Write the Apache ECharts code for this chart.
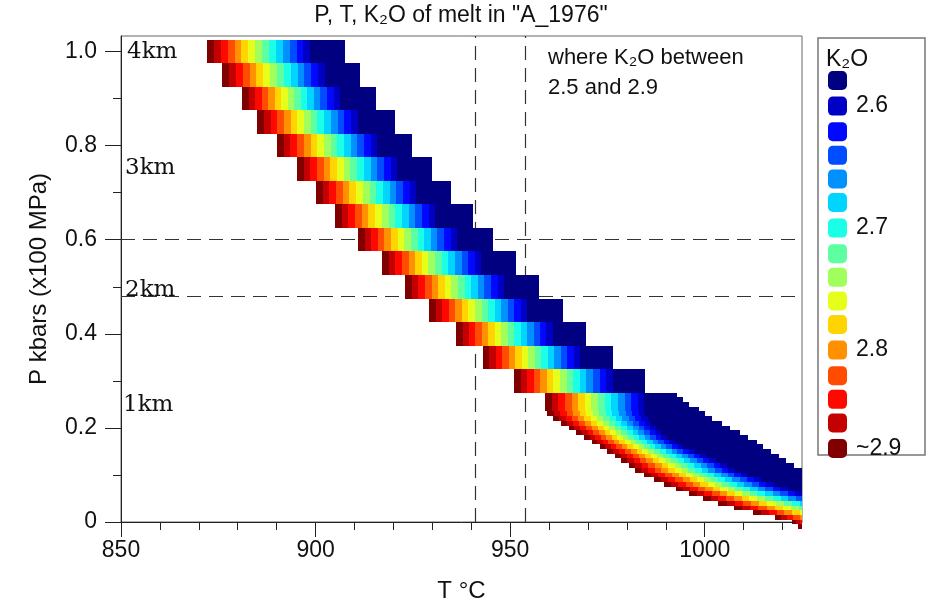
<!DOCTYPE html>
<html><head><meta charset="utf-8">
<script src="https://cdn.jsdelivr.net/npm/echarts@6/dist/echarts.min.js"></script>
<style>html,body{margin:0;padding:0;background:#fff}#c{width:937px;height:608px}</style>
</head><body><div id="c"></div>
<script>
// ---------------- data ----------------
// K2O colour bins (legend order, top -> bottom) and their colours
const binK2O = [2.58, 2.60, 2.62, 2.64, 2.66, 2.68, 2.70, 2.72, 2.74, 2.76, 2.78, 2.80, 2.82, 2.84, 2.86, 2.88];
const binColors = ['#000080', '#0000C4', '#0008FF', '#004CFF', '#0091FF', '#00D4FF', '#1AFFE6', '#5DFFA1',
                   '#A1FF5D', '#E6FF1A', '#FFD400', '#FF9100', '#FF4C00', '#FF0800', '#C40000', '#800000'];
const legendLabels = { '2.60': '2.6', '2.70': '2.7', '2.80': '2.8', '2.88': '~2.9' };

// K2O of the successive stripes in every row, low T -> high T, before the navy block
const stripeK2O = [2.88, 2.86, 2.84, 2.82, 2.80, 2.78, 2.76, 2.74, 2.72, 2.70, 2.68, 2.66, 2.64, 2.62, 2.60];
const navyK2O = 2.58;

// upper staircase: row pressure (kbar), first T, stripe width (degC), last T
const upperH = 0.05;
const upperP  = [1.00, 0.95, 0.90, 0.85, 0.80, 0.75, 0.70, 0.65, 0.60, 0.55, 0.50, 0.45, 0.40, 0.35, 0.30];
const upperT0 = [872.1, 876.0, 881.1, 885.0, 890.1, 895.2, 900.1, 905.0, 910.9, 917.1, 923.0, 929.2, 936.1, 943.0, 951.0];
const upperW  = [1.77, 1.76, 1.68, 1.72, 1.72, 1.72, 1.72, 1.72, 1.70, 1.70, 1.70, 1.68, 1.66, 1.67, 1.69];
const upperT1 = [907.6, 911.4, 915.5, 920.4, 924.8, 929.9, 934.8, 940.5, 945.6, 951.5, 957.4, 963.6, 969.5, 976.4, 984.7];

// lower (fine) region: row pressure, first T, stripe width, last T
const lowerH = 0.01;
const lowerP  = [0.27, 0.26, 0.25, 0.24, 0.23, 0.22, 0.21, 0.20, 0.19, 0.18, 0.17, 0.16, 0.15, 0.14, 0.13,
                 0.12, 0.11, 0.10, 0.09, 0.08, 0.07, 0.06, 0.05, 0.04, 0.03, 0.02, 0.01, 0.00, -0.01];
const lowerT0 = [959, 959, 959, 959, 959.5, 961, 963, 965, 967, 969, 971, 973, 975, 977, 978.5,
                 980.5, 982, 984.5, 987, 989.5, 992.5, 996, 999.5, 1003.5, 1007.5, 1012.5, 1018, 1022.5, 1024];
const lowerW  = [1.70, 1.70, 1.70, 1.70, 1.68, 1.62, 1.55, 1.50, 1.45, 1.42, 1.42, 1.43, 1.50, 1.55, 1.62,
                 1.68, 1.72, 1.78, 1.83, 1.88, 1.92, 1.95, 2.0, 2.1, 2.1, 2.0, 1.6, 1.0, 1.0];
const lowerT1 = [993, 994.5, 996, 998.5, 1000, 1002, 1004.5, 1006.5, 1009, 1011, 1013.5, 1015, 1017, 1019, 1021,
                 1023, 1025, 1025, 1025, 1025, 1025, 1025, 1025, 1025, 1025, 1025, 1025, 1025, 1025];

// reference lines
const refT = [941, 954];
const refP = [0.6, 0.48];

// axis ticks
const xMajor = [850, 900, 950, 1000];
const xMinor = [860, 870, 880, 890, 910, 920, 930, 940, 960, 970, 980, 990, 1010, 1020];
const yMajor = [0, 0.2, 0.4, 0.6, 0.8, 1.0];
const yMinor = [0.1, 0.3, 0.5, 0.7, 0.9];

// ---------------- build cells ----------------
const cellsByBin = binK2O.map(() => []);
function binIndex(k) { return binK2O.findIndex(v => Math.abs(v - k) < 1e-6); }
function addRow(p, h, t0, w, t1) {
  for (let k = 0; k < stripeK2O.length; k++) {
    const a = t0 + k * w;
    if (a >= t1) return;
    const b = Math.min(a + w, t1);
    cellsByBin[binIndex(stripeK2O[k])].push([a, b, p, h]);
  }
  const n = t0 + stripeK2O.length * w;
  if (n < t1) cellsByBin[binIndex(navyK2O)].push([n, t1, p, h]);
}
upperP.forEach((p, i) => addRow(p, upperH, upperT0[i], upperW[i], upperT1[i]));
lowerP.forEach((p, i) => addRow(p, lowerH, lowerT0[i], lowerW[i], lowerT1[i]));

function renderItem(params, api) {
  const t0 = api.value(0), t1 = api.value(1), p = api.value(2), h = api.value(3);
  const a = api.coord([t0, p + h / 2]);
  const b = api.coord([t1, p - h / 2]);
  const cs = params.coordSys;
  const x0 = Math.round(Math.max(a[0], cs.x));
  const x1 = Math.round(Math.min(b[0], cs.x + cs.width));
  const y0 = Math.round(a[1]), y1 = Math.round(b[1]);
  if (x1 <= x0) return;
  return { type: 'rect', shape: { x: x0, y: y0, width: x1 - x0, height: y1 - y0 },
           style: { fill: api.visual('color') } };
}

const SANS = '"Liberation Sans", Arial, sans-serif';
const SERIF = '"DejaVu Serif", serif';
const GRID = { left: 121, top: 36, right: 135, bottom: 86 };

const series = binK2O.map((v, i) => ({
  type: 'custom', name: v.toFixed(2), xAxisIndex: 0, yAxisIndex: 0,
  renderItem, data: cellsByBin[i], itemStyle: { color: binColors[i] },
  encode: { x: [0, 1], y: 2 }, clip: false, silent: true, z: 10
}));
series.push({
  type: 'line', xAxisIndex: 0, yAxisIndex: 0, data: [], z: 1, silent: true,
  markLine: {
    z: 1, silent: true, symbol: 'none', label: { show: false }, animation: false,
    lineStyle: { color: '#333', width: 1.2, type: [14, 8] },
    data: refT.map(t => ({ xAxis: t })).concat(refP.map(p => ({ yAxis: p })))
  }
});

const axisCol = '#222';
const option = {
  animation: false,
  backgroundColor: '#fff',
  grid: [
    Object.assign({ show: true, borderColor: '#666', borderWidth: 1 }, GRID),
    Object.assign({ show: false }, GRID)
  ],
  xAxis: [
    { type: 'value', gridIndex: 0, min: 850, max: 1025, position: 'bottom',
      axisLine: { show: true, onZero: false, lineStyle: { color: axisCol, width: 1 } },
      axisTick: { show: true, customValues: xMajor, length: 15, lineStyle: { color: axisCol } },
      axisLabel: { customValues: xMajor, fontSize: 23, margin: 17, color: '#111', fontFamily: SANS,
                   formatter: v => String(v) },
      splitLine: { show: false },
      name: 'T °C', nameLocation: 'middle', nameGap: 57,
      nameTextStyle: { fontSize: 24, color: '#111', fontFamily: SANS } },
    { type: 'value', gridIndex: 1, min: 850, max: 1025, position: 'bottom',
      axisLine: { show: false },
      axisTick: { show: true, customValues: xMinor, length: 8, lineStyle: { color: axisCol } },
      axisLabel: { show: false }, splitLine: { show: false } }
  ],
  yAxis: [
    { type: 'value', gridIndex: 0, min: 0, max: 1.033, position: 'left',
      axisLine: { show: true, onZero: false, lineStyle: { color: axisCol, width: 1 } },
      axisTick: { show: true, customValues: yMajor, length: 16, lineStyle: { color: axisCol } },
      axisLabel: { customValues: yMajor, fontSize: 23, margin: 24, color: '#111', fontFamily: SANS,
                   formatter: v => (v === 0 ? '0' : v.toFixed(1)) },
      splitLine: { show: false },
      name: 'P kbars (x100 MPa)', nameLocation: 'middle', nameGap: 70, nameRotate: 90,
      nameTextStyle: { fontSize: 24, color: '#111', fontFamily: SANS } },
    { type: 'value', gridIndex: 1, min: 0, max: 1.033, position: 'left',
      axisLine: { show: false },
      axisTick: { show: true, customValues: yMinor, length: 8, lineStyle: { color: axisCol } },
      axisLabel: { show: false }, splitLine: { show: false } }
  ],
  legend: {
    orient: 'vertical', left: 828, top: 71, padding: 0,
    itemWidth: 19, itemHeight: 19, itemGap: 4.6, icon: 'roundRect', selectedMode: false,
    data: binK2O.map(v => v.toFixed(2)),
    formatter: n => legendLabels[n] || '',
    textStyle: { fontSize: 23, color: '#111', fontFamily: SANS, lineHeight: 19, padding: [0, 0, 0, 4] }
  },
  graphic: [
    { type: 'rect', shape: { x: 818, y: 38, width: 107, height: 417 },
      style: { fill: 'none', stroke: '#777', lineWidth: 1.5 }, z: 0 },
    { type: 'text', x: 826, y: 60, style: { text: 'K₂O', font: '23px ' + SANS, fill: '#111', verticalAlign: 'middle' } },
    { type: 'text', x: 461, y: 16, style: { text: 'P, T, K₂O of melt in "A_1976"', font: '23px ' + SANS, fill: '#111', align: 'center', verticalAlign: 'middle' } },
    { type: 'text', x: 548, y: 58, style: { text: 'where K₂O between', font: '22px ' + SANS, fill: '#111', verticalAlign: 'middle' } },
    { type: 'text', x: 548, y: 88, style: { text: '2.5 and 2.9', font: '22px ' + SANS, fill: '#111', verticalAlign: 'middle' } },
    { type: 'text', x: 127, y: 52, style: { text: '4km', font: '23px ' + SERIF, fill: '#111', verticalAlign: 'middle' } },
    { type: 'text', x: 125, y: 168, style: { text: '3km', font: '23px ' + SERIF, fill: '#111', verticalAlign: 'middle' } },
    { type: 'text', x: 125, y: 290, style: { text: '2km', font: '23px ' + SERIF, fill: '#111', verticalAlign: 'middle' } },
    { type: 'text', x: 123, y: 405, style: { text: '1km', font: '23px ' + SERIF, fill: '#111', verticalAlign: 'middle' } }
  ],
  series
};

const chart = echarts.init(document.getElementById('c'), null, { renderer: 'canvas' });
chart.setOption(option);
</script>
</body></html>
